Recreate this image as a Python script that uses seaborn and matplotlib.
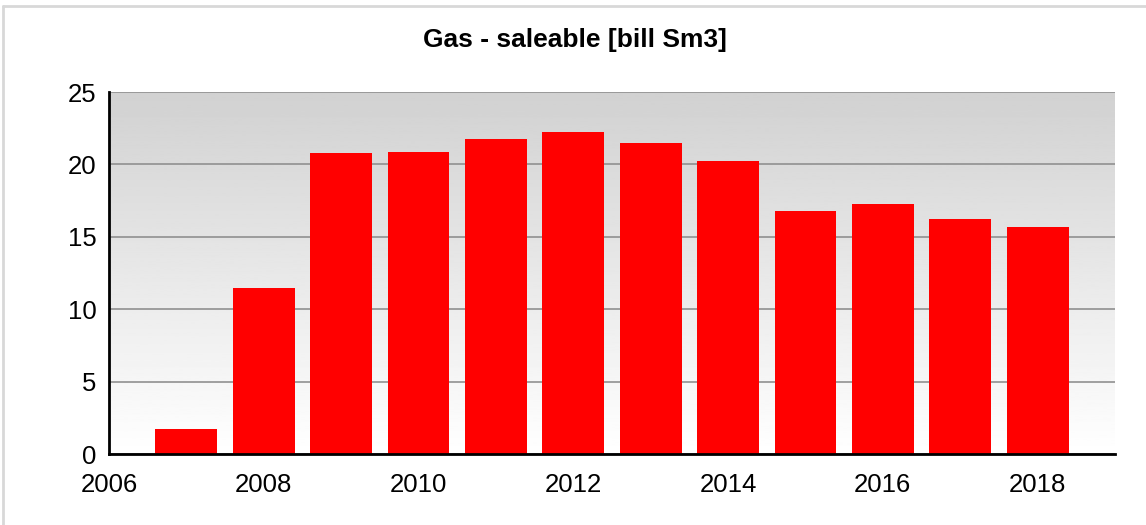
import numpy as np
import pandas as pd
import matplotlib
matplotlib.use("Agg")
import matplotlib.pyplot as plt
import seaborn as sns
from matplotlib.lines import Line2D

# data
years = [2007, 2008, 2009, 2010, 2011, 2012, 2013, 2014, 2015, 2016, 2017, 2018]
gas = [1.7, 11.45, 20.8, 20.85, 21.75, 22.25, 21.5, 20.25, 16.8, 17.25, 16.25, 15.7]
yticks = [0, 5, 10, 15, 20, 25]
xticks = [2006, 2008, 2010, 2012, 2014, 2016, 2018]

df = pd.DataFrame({"year": years, "gas": gas})

sns.set_style("white")
plt.rcParams["font.family"] = ["Liberation Sans", "DejaVu Sans"]

fig = plt.figure(figsize=(11.46, 5.25), dpi=100)
ax = fig.add_axes([109 / 1146, 1 - 454 / 525, (1115 - 109) / 1146, (454 - 92) / 525])

# grey (top) to white (bottom) gradient background
grad = np.linspace(0.82, 1.0, 256).reshape(-1, 1)
ax.imshow(grad, extent=[0, 1, 0, 1], transform=ax.transAxes, aspect="auto",
          cmap="gray", vmin=0, vmax=1, zorder=0)

sns.barplot(data=df, x="year", y="gas", native_scale=True, color="#ff0000",
            saturation=1, width=0.8, linewidth=0, edgecolor="none", ax=ax, zorder=2)

ax.set_xlim(2006, 2019)
ax.set_ylim(0, 25)
ax.set_xticks(xticks)
ax.set_yticks(yticks)
ax.tick_params(axis="both", labelsize=18.5, colors="#808080", labelcolor="black",
               length=6, width=1, direction="out")
ax.tick_params(axis="x", pad=8)
ax.tick_params(axis="y", pad=3)
ax.yaxis.grid(True, color="#909090", linewidth=1.2)
for gl in ax.get_ygridlines():
    gl.set_zorder(1)
ax.set_xlabel("")
ax.set_ylabel("")

for s in ["top", "right"]:
    ax.spines[s].set_visible(False)
ax.spines["left"].set_color("black")
ax.spines["left"].set_linewidth(2)
ax.spines["bottom"].set_color("black")
ax.spines["bottom"].set_linewidth(2)

fig.text(575 / 1146, 1 - 40 / 525, "Gas - saleable [bill Sm3]", ha="center",
         va="center", fontsize=19, fontweight="bold", color="black")

# light frame round the chart
fig.add_artist(Line2D([3 / 1146, 1], [1 - 6 / 525, 1 - 6 / 525], color="#d8d8d8",
                      linewidth=2, transform=fig.transFigure))
fig.add_artist(Line2D([3 / 1146, 3 / 1146], [0, 1 - 6 / 525], color="#d8d8d8",
                      linewidth=2, transform=fig.transFigure))

fig.savefig("out.png", dpi=100)
